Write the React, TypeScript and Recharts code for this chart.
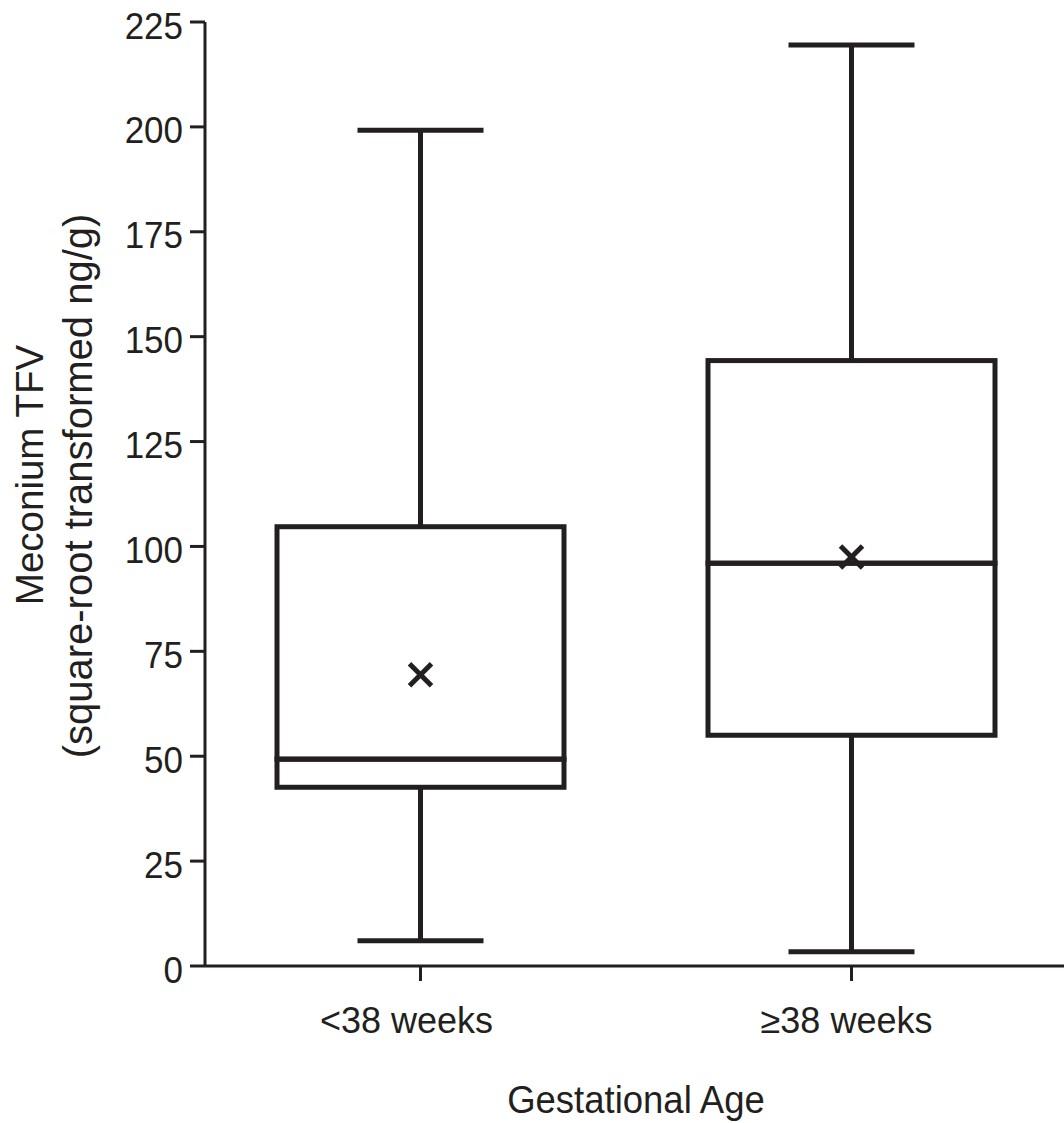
import React from 'react';
import { ComposedChart, Bar, Scatter, XAxis, YAxis } from 'recharts';

const categories = ['<38 weeks', '\u226538 weeks'];
const minValues = [6, 3.4];
const q1Values = [42.6, 55];
const medianValues = [49.3, 96];
const q3Values = [104.7, 144.3];
const maxValues = [199.2, 219.5];
const meanValues = [69.4, 97.5];
const yTicks = [0, 25, 50, 75, 100, 125, 150, 175, 200, 225];

const INK = '#231f20';
const FONT = '"Liberation Sans", Arial, Helvetica, sans-serif';

const data = categories.map((name, i) => ({
  name,
  base: minValues[i],
  lowWhisker: q1Values[i] - minValues[i],
  lowBox: medianValues[i] - q1Values[i],
  highBox: q3Values[i] - medianValues[i],
  highWhisker: maxValues[i] - q3Values[i],
  mean: meanValues[i],
}));

const CAP_RATIO = 126 / 287;

const Empty = () => <g />;

const LowWhisker = (p: any) => {
  const cx = p.x + p.width / 2;
  const half = (p.width * CAP_RATIO) / 2;
  const bottom = p.y + p.height;
  return (
    <g stroke={INK} strokeWidth={5}>
      <line x1={cx} x2={cx} y1={p.y} y2={bottom} />
      <line x1={cx - half} x2={cx + half} y1={bottom} y2={bottom} />
    </g>
  );
};

const HighWhisker = (p: any) => {
  const cx = p.x + p.width / 2;
  const half = (p.width * CAP_RATIO) / 2;
  return (
    <g stroke={INK} strokeWidth={5}>
      <line x1={cx} x2={cx} y1={p.y} y2={p.y + p.height} />
      <line x1={cx - half} x2={cx + half} y1={p.y} y2={p.y} />
    </g>
  );
};

const BoxPart = (p: any) => (
  <rect x={p.x} y={p.y} width={p.width} height={p.height} fill="none" stroke={INK} strokeWidth={5} />
);

const MeanMark = (p: any) => {
  const s = 11;
  return (
    <g stroke={INK} strokeWidth={5}>
      <line x1={p.cx - s} y1={p.cy - s} x2={p.cx + s} y2={p.cy + s} />
      <line x1={p.cx - s} y1={p.cy + s} x2={p.cx + s} y2={p.cy - s} />
    </g>
  );
};

const XTick = (p: any) => {
  const shift = p.index === 0 ? -14 : -5;
  return (
    <text x={p.x + shift} y={p.y + 50} textAnchor="middle" fontSize={36} fontFamily={FONT} fill={INK}>
      {p.payload.value}
    </text>
  );
};

const YTick = (p: any) => (
  <g transform={`translate(183, ${p.y + 16.5}) scale(1, 1.08)`}>
    <text x={0} y={0} textAnchor="end" fontSize={35} fontFamily={FONT} fill={INK}>
      {p.payload.value}
    </text>
  </g>
);

const YLabel = () => (
  <g fontFamily={FONT} fill={INK} textAnchor="middle">
    <text x={43} y={475} fontSize={38.5} transform="rotate(-90, 43, 475)">Meconium TFV</text>
    <text x={92} y={486} fontSize={40} transform="rotate(-90, 92, 486)">(square-root transformed ng/g)</text>
  </g>
);

export default function App() {
  return (
    <div style={{ position: 'absolute', left: 0, top: 0, width: 1064, height: 1123, overflow: 'hidden', background: '#fff' }}>
      <ComposedChart
        width={1067}
        height={1123}
        data={data}
        margin={{ top: 22, right: 0, left: 0, bottom: 0 }}
      >
        <XAxis
          dataKey="name"
          height={157}
          tickSize={15}
          tick={<XTick />}
          axisLine={{ stroke: INK, strokeWidth: 3 }}
          tickLine={{ stroke: INK, strokeWidth: 3 }}
          label={{
            value: 'Gestational Age',
            position: 'insideBottom',
            offset: 0,
            content: () => (
              <g transform="translate(636, 1113) scale(1, 1.08)">
                <text x={0} y={0} textAnchor="middle" fontSize={36.5} fontFamily={FONT} fill={INK}>
                  Gestational Age
                </text>
              </g>
            ),
          }}
        />
        <YAxis
          width={205}
          domain={[0, 225]}
          ticks={yTicks}
          interval={0}
          tickSize={15}
          tick={<YTick />}
          axisLine={{ stroke: INK, strokeWidth: 3 }}
          tickLine={{ stroke: INK, strokeWidth: 3 }}
          label={{ value: 'Meconium TFV', content: () => <YLabel /> }}
        />
        <Bar dataKey="base" stackId="box" barSize={287} shape={<Empty />} isAnimationActive={false} />
        <Bar dataKey="lowWhisker" stackId="box" barSize={287} shape={<LowWhisker />} isAnimationActive={false} />
        <Bar dataKey="lowBox" stackId="box" barSize={287} shape={<BoxPart />} isAnimationActive={false} />
        <Bar dataKey="highBox" stackId="box" barSize={287} shape={<BoxPart />} isAnimationActive={false} />
        <Bar dataKey="highWhisker" stackId="box" barSize={287} shape={<HighWhisker />} isAnimationActive={false} />
        <Scatter dataKey="mean" shape={<MeanMark />} isAnimationActive={false} />
      </ComposedChart>
    </div>
  );
}
